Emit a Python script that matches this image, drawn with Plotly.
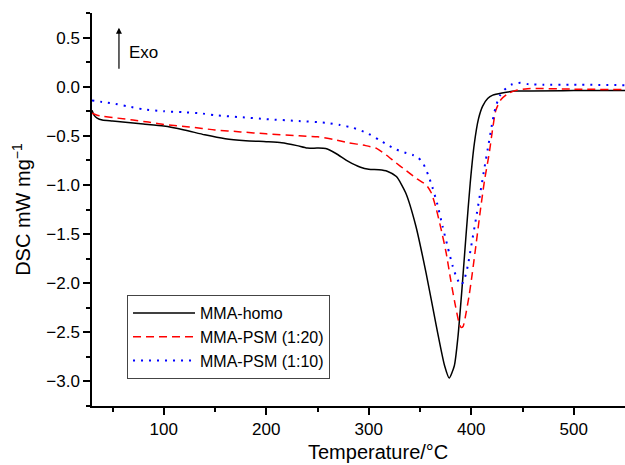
import plotly.graph_objects as go

# ---- data ----
homo_T = [30, 32, 35, 40, 50, 60, 80, 100, 120, 140, 160, 180, 200, 215, 230, 240, 250, 258,
          268, 280, 292, 300, 310, 318, 327, 336, 346, 356, 366, 374, 378.5, 383.5, 387, 391,
          395, 399, 403, 407, 411, 416, 421, 430, 443, 500, 550]
homo_Y = [-0.24, -0.29, -0.32, -0.34, -0.35, -0.36, -0.38, -0.40, -0.44, -0.49, -0.53, -0.55,
          -0.56, -0.57, -0.60, -0.625, -0.625, -0.63, -0.68, -0.76, -0.82, -0.84, -0.845,
          -0.86, -0.915, -1.08, -1.42, -1.9, -2.44, -2.84, -2.965, -2.84, -2.55, -2.05,
          -1.5, -0.98, -0.58, -0.33, -0.2, -0.12, -0.086, -0.065, -0.045, -0.04, -0.04]

psm20_T = [30, 35, 40, 55, 70, 85, 100, 125, 150, 175, 200, 232, 250, 265, 280, 297, 308,
           317, 326, 336, 346, 356, 361, 366, 371, 375.5, 380, 384, 388, 390, 392, 395, 398,
           401, 405, 409, 413, 417.5, 421, 424, 429, 436, 443, 455, 500, 550]
psm20_Y = [-0.27, -0.29, -0.30, -0.32, -0.34, -0.36, -0.385, -0.41, -0.44, -0.46, -0.48,
           -0.50, -0.51, -0.535, -0.57, -0.60, -0.63, -0.695, -0.77, -0.85, -0.93, -1.0,
           -1.08, -1.25, -1.47, -1.69, -1.97, -2.2, -2.40, -2.45, -2.44, -2.30, -2.12, -1.9,
           -1.58, -1.25, -0.95, -0.68, -0.42, -0.24, -0.13, -0.07, -0.04, -0.02, -0.025, -0.03]

psm10_T = [30, 40, 50, 65, 80, 100, 120, 135, 150, 175, 200, 232, 258, 272, 285, 298, 310,
           318, 327, 335, 343, 348, 353, 358, 362, 367, 372, 377, 382, 386, 390, 393, 396.5,
           400, 404.5, 408.5, 412.5, 417, 421, 424, 428, 432, 436, 440, 448, 456, 470, 500, 550]
psm10_Y = [-0.14, -0.155, -0.17, -0.20, -0.23, -0.25, -0.26, -0.27, -0.29, -0.31, -0.33,
           -0.35, -0.367, -0.39, -0.42, -0.47, -0.54, -0.59, -0.64, -0.67, -0.695, -0.72,
           -0.78, -0.9, -1.02, -1.2, -1.42, -1.63, -1.83, -1.95, -2.02, -1.97, -1.83, -1.62,
           -1.35, -1.1, -0.85, -0.58, -0.34, -0.2, -0.09, -0.035, 0.0, 0.025, 0.04, 0.025,
           0.02, 0.02, 0.015]

names = ["MMA-homo", "MMA-PSM (1:20)", "MMA-PSM (1:10)"]

FONT = "Liberation Sans, Arial, Helvetica, sans-serif"

fig = go.Figure()
fig.add_trace(go.Scatter(x=homo_T, y=homo_Y, mode="lines", name=names[0],
                         line=dict(color="black", width=1.5, shape="spline", smoothing=0.6)))
fig.add_trace(go.Scatter(x=psm20_T, y=psm20_Y, mode="lines", name=names[1],
                         line=dict(color="#ff0000", width=1.5, dash="8px,5px",
                                   shape="spline", smoothing=0.6)))
fig.add_trace(go.Scatter(x=psm10_T, y=psm10_Y, mode="lines", name=names[2],
                         line=dict(color="#0000ff", width=2, dash="2px,6px",
                                   shape="spline", smoothing=0.6)))

fig.update_layout(
    width=625, height=465,
    margin=dict(l=92, r=0, t=13, b=59),
    paper_bgcolor="white", plot_bgcolor="white",
    font=dict(family=FONT, size=17, color="black"),
    showlegend=True,
    legend=dict(x=0.0657, y=0.2824, xanchor="left", yanchor="top",
                bordercolor="#444", borderwidth=1, bgcolor="white",
                font=dict(size=16), itemwidth=62, tracegroupgap=0),
)

fig.update_xaxes(
    range=[30, 550], showgrid=False, zeroline=False,
    showline=True, linecolor="black", linewidth=1.5,
    ticks="outside", ticklen=7, tickwidth=1.5, tickcolor="black",
    tickvals=[100, 200, 300, 400, 500],
    minor=dict(tickvals=[50, 150, 250, 350, 450], ticks="outside", ticklen=4,
               tickwidth=1.5, tickcolor="black"),
    tickfont=dict(size=17),
)
fig.update_yaxes(
    range=[-3.25, 0.75], showgrid=False, zeroline=False,
    showline=True, linecolor="black", linewidth=1.5,
    ticks="outside", ticklen=7, tickwidth=1.5, tickcolor="black",
    tickvals=[-3.0, -2.5, -2.0, -1.5, -1.0, -0.5, 0.0, 0.5],
    tickformat=".1f",
    minor=dict(tickvals=[-3.25, -2.75, -2.25, -1.75, -1.25, -0.75, -0.25, 0.25, 0.75],
               ticks="outside", ticklen=4, tickwidth=1.5, tickcolor="black"),
    tickfont=dict(size=17),
    title=dict(text="DSC mW mg<sup>−1</sup>", font=dict(size=20), standoff=10),
)

# x-axis title
fig.add_annotation(text="Temperature/°C", xref="paper", yref="paper",
                   x=(377.5 - 92) / 533, y=-0.117, xanchor="center", yanchor="middle",
                   showarrow=False, font=dict(size=20))

# Exo arrow
fig.add_annotation(x=56.3, y=0.60, ax=56.3, ay=0.167, xref="x", yref="y",
                   axref="x", ayref="y", text="", showarrow=True,
                   arrowhead=2, arrowsize=1, arrowwidth=1.2, arrowcolor="black")
fig.add_annotation(text="Exo", x=64, y=0.35, xref="x", yref="y", xanchor="left",
                   yanchor="middle", showarrow=False, font=dict(size=17))

fig.write_html("out.html")
